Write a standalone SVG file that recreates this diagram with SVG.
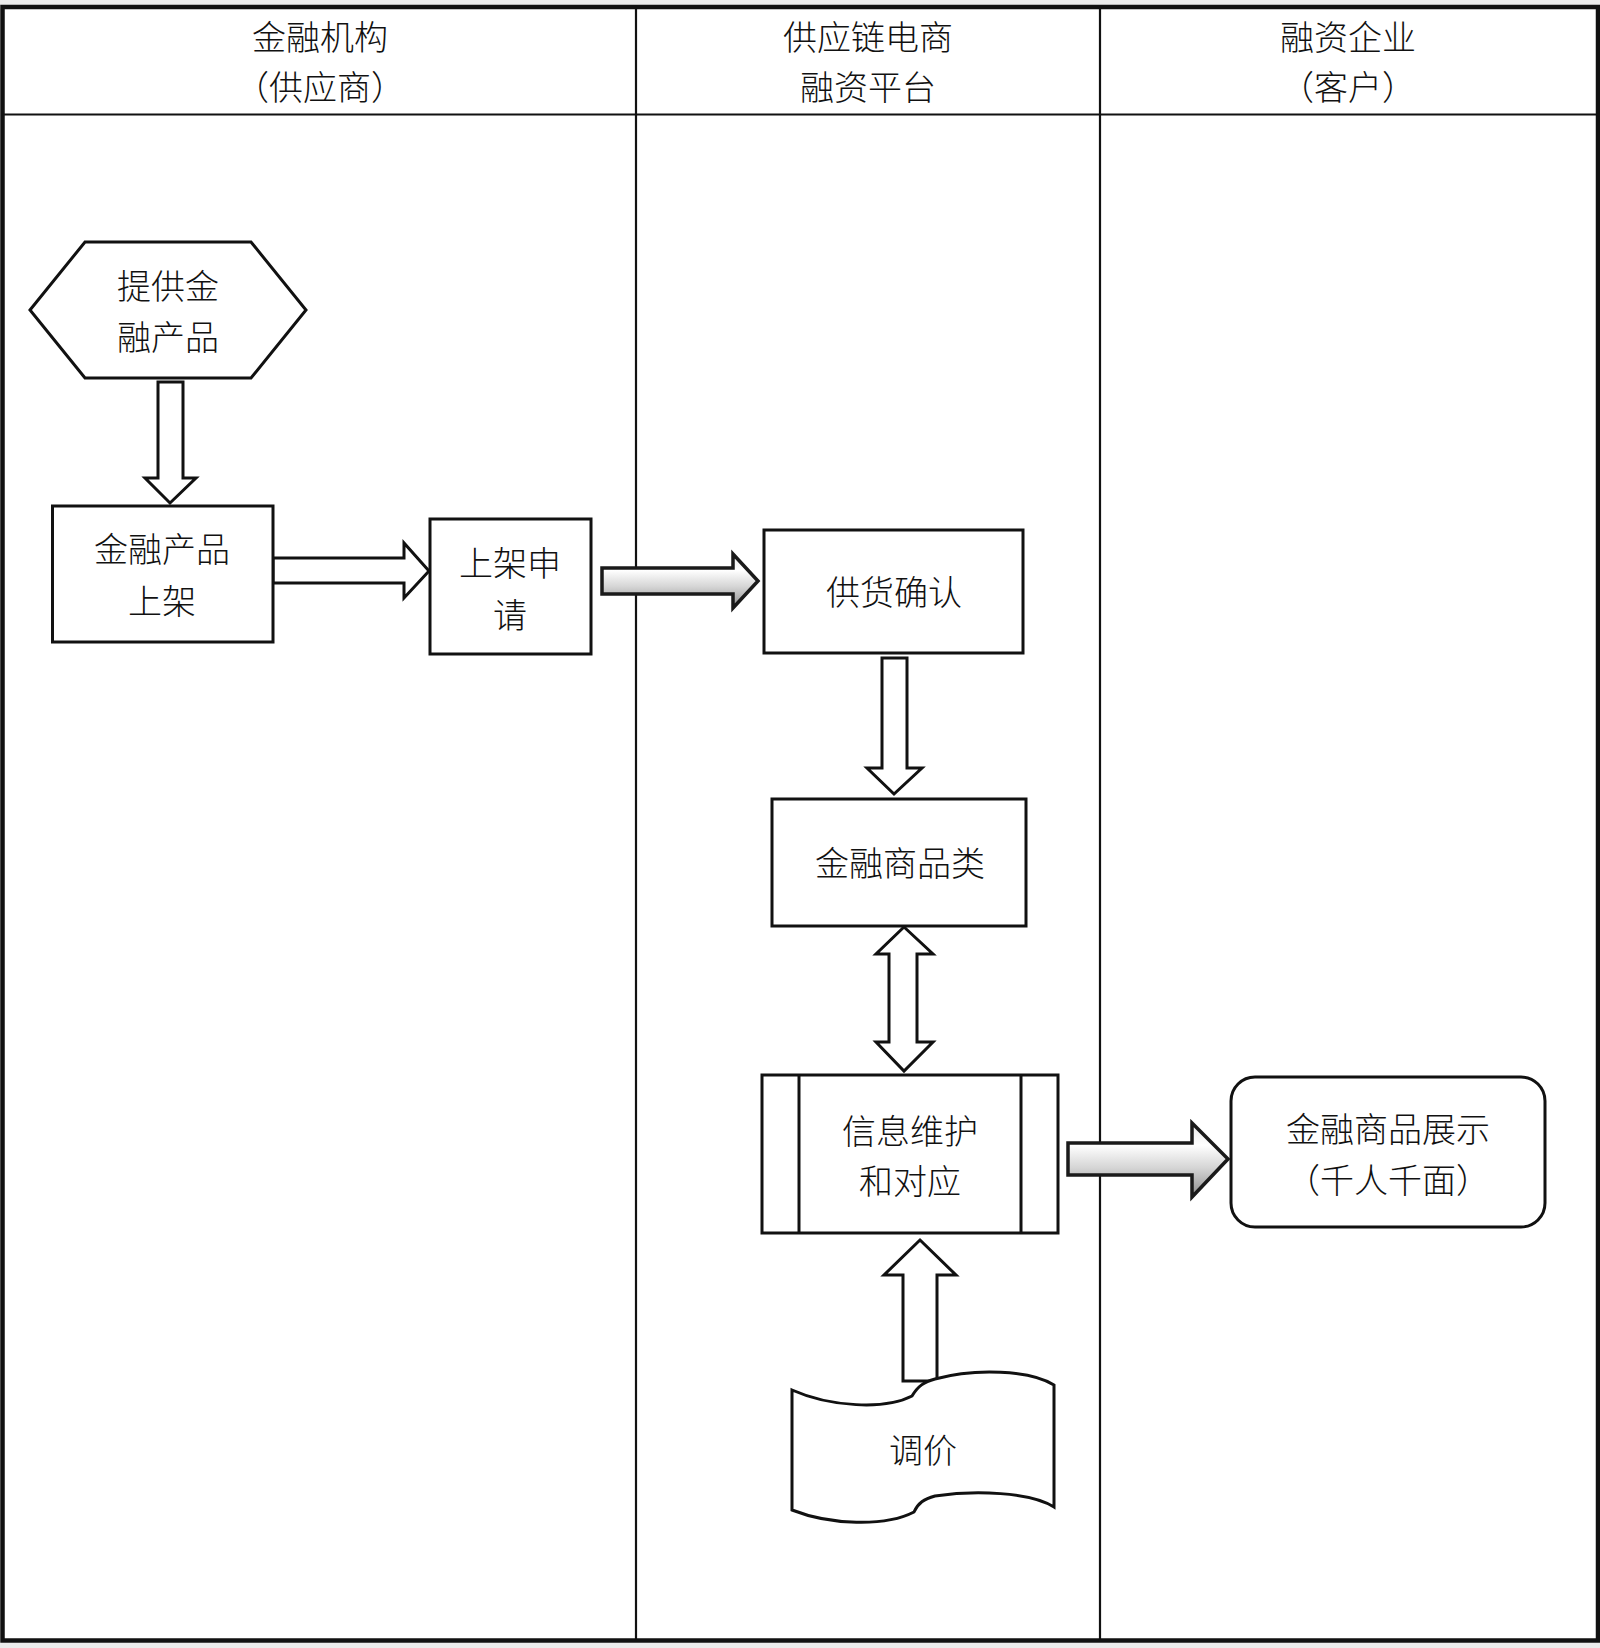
<svg xmlns="http://www.w3.org/2000/svg" width="1600" height="1648" viewBox="0 0 1600 1648">
<defs>
<linearGradient id="bevel" x1="0" y1="0" x2="0" y2="1">
<stop offset="0" stop-color="#e8e8e8"/>
<stop offset="0.3" stop-color="#ffffff"/>
<stop offset="0.6" stop-color="#d6d6d6"/>
<stop offset="1" stop-color="#8c8c8c"/>
</linearGradient>
<style>
.t{font-family:"Noto Sans CJK SC","Noto Sans CJK JP",sans-serif;font-size:34px;font-weight:300;fill:#111;text-anchor:middle;dominant-baseline:central}
.n{fill:#fff;stroke:#111;stroke-width:3}
.a{fill:#fff;stroke:#111;stroke-width:3;stroke-linejoin:miter}
.g{fill:url(#bevel);stroke:#1a1a1a;stroke-width:3.5;stroke-linejoin:miter}
.lane{stroke:#111;stroke-width:2.2;fill:none}
</style>
</defs>
<rect x="0" y="0" width="1600" height="1648" fill="#fff"/>
<rect x="0" y="0" width="1600" height="5" fill="#ececec"/>
<rect x="0" y="1643" width="1600" height="5" fill="#ececec"/>
<g id="lanes">
<rect x="2.5" y="7" width="1595.5" height="1633.5" fill="none" stroke="#111" stroke-width="4.5"/>
<line class="lane" x1="2.5" y1="114.5" x2="1598" y2="114.5" stroke-width="3"/>
<line class="lane" x1="636" y1="7" x2="636" y2="1640"/>
<line class="lane" x1="1100" y1="7" x2="1100" y2="1640"/>
<text class="t" x="320" y="35">金融机构</text>
<text class="t" x="320" y="85">（供应商）</text>
<text class="t" x="868" y="35">供应链电商</text>
<text class="t" x="868" y="85">融资平台</text>
<text class="t" x="1348" y="35">融资企业</text>
<text class="t" x="1348" y="85">（客户）</text>
</g>
<g id="connectors">
<polygon class="a" points="158,382 183,382 183,478 196,478 170,503 145,478 158,478"/>
<polygon class="a" points="273,558 404,558 404,543 429,571 404,598 404,583 273,583"/>
<polygon class="g" points="602,568 733,568 733,554 758,581 733,608 733,594 602,594"/>
<polygon class="a" points="882,658 907,658 907,768 922,768 894,794 867,768 882,768"/>
<polygon class="a" points="904,927 933,954 917,954 917,1042 933,1042 904,1071 876,1042 889,1042 889,954 876,954"/>
<polygon class="a" points="920,1240 956,1275 937,1275 937,1381 903,1381 903,1275 884,1275"/>
<polygon class="g" points="1068,1143 1192,1143 1192,1123 1228,1159 1192,1197 1192,1175 1068,1175"/>
</g>
<g id="node-provide">
<polygon class="n" points="30,310 85,242 251,242 306,310 251,378 85,378"/>
<text class="t" x="168" y="284">提供金</text>
<text class="t" x="168" y="335">融产品</text>
</g>
<g id="node-listing">
<rect class="n" x="52.5" y="506" width="220.5" height="136"/>
<text class="t" x="162" y="547">金融产品</text>
<text class="t" x="162" y="599">上架</text>
</g>
<g id="node-apply">
<rect class="n" x="430" y="519" width="161" height="135"/>
<text class="t" x="510" y="561">上架申</text>
<text class="t" x="510" y="613">请</text>
</g>
<g id="node-confirm">
<rect class="n" x="764" y="530" width="259" height="123"/>
<text class="t" x="894" y="590">供货确认</text>
</g>
<g id="node-category">
<rect class="n" x="772" y="799" width="254" height="127"/>
<text class="t" x="900" y="861">金融商品类</text>
</g>
<g id="node-maintain">
<rect class="n" x="762" y="1075" width="296" height="158"/>
<line x1="799" y1="1075" x2="799" y2="1233" stroke="#111" stroke-width="3"/>
<line x1="1021" y1="1075" x2="1021" y2="1233" stroke="#111" stroke-width="3"/>
<text class="t" x="910" y="1129">信息维护</text>
<text class="t" x="910" y="1179">和对应</text>
</g>
<g id="node-price">
<path class="n" d="M792,1390 C830,1407 885,1410 912,1396 C918,1386 924,1382 935,1379 C975,1368 1030,1370 1054,1385 L1054,1507 C1030,1492 975,1490 935,1496 C924,1499 918,1503 914,1512 C885,1527 830,1525 792,1510 Z"/>
<text class="t" x="923" y="1448">调价</text>
</g>
<g id="node-display">
<rect class="n" x="1231" y="1077" width="314" height="150" rx="24" ry="24"/>
<text class="t" x="1388" y="1127">金融商品展示</text>
<text class="t" x="1388" y="1178">（千人千面）</text>
</g>
</svg>
